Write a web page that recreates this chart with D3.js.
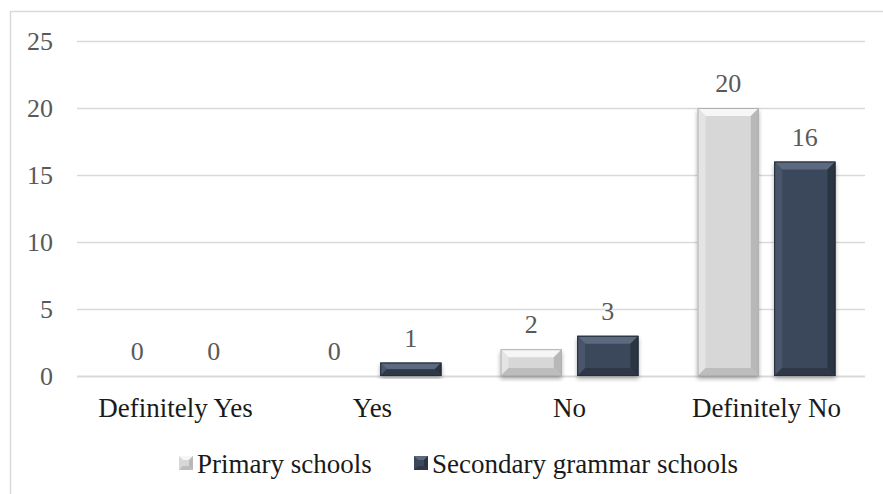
<!DOCTYPE html>
<html>
<head>
<meta charset="utf-8">
<script src="https://cdnjs.cloudflare.com/ajax/libs/d3/7.8.5/d3.min.js"></script>
<style>
  body { margin: 0; background: #fff; }
</style>
</head>
<body>
<div id="chart"></div>
<script>
// data
var categories = ["Definitely Yes", "Yes", "No", "Definitely No"];
var seriesNames = ["Primary schools", "Secondary grammar schools"];
var primary = [0, 0, 2, 20];
var secondary = [0, 1, 3, 16];
var yTicks = [0, 5, 10, 15, 20, 25];

var svgWidth = 883, svgHeight = 494;
var margin = { top: 41, bottom: 118, left: 77, right: 18 };
var chartWidth = svgWidth - margin.left - margin.right;
var chartHeight = svgHeight - margin.top - margin.bottom;
var serif = "'Liberation Serif', 'Times New Roman', 'DejaVu Serif', serif";

var svg = d3.select('#chart').append('svg').attr('width', svgWidth).attr('height', svgHeight)
  .attr('font-family', serif).style('font-family', serif);

// outer frame (only left and top visible)
svg.append('path').attr('d', 'M10.5,494 L10.5,11.5 L883,11.5')
  .attr('fill', 'none').attr('stroke', '#d9d9d9').attr('stroke-width', 1.5);

var defs = svg.append('defs');
var f = defs.append('filter').attr('id', 'shadow').attr('x', '-20%').attr('y', '-20%').attr('width', '140%').attr('height', '140%');
f.append('feGaussianBlur').attr('in', 'SourceAlpha').attr('stdDeviation', 2);
f.append('feOffset').attr('dx', 0).attr('dy', 3).attr('result', 'b');
f.append('feComponentTransfer').append('feFuncA').attr('type', 'linear').attr('slope', 0.3);
var m = f.append('feMerge');
m.append('feMergeNode');
m.append('feMergeNode').attr('in', 'SourceGraphic');

var g = svg.append('g').attr('transform', `translate(${margin.left},${margin.top})`);

var xScale = d3.scaleBand().domain(categories).range([0, chartWidth]).paddingInner(0.3).paddingOuter(0.15);
var xInner = d3.scaleBand().domain(seriesNames).range([0, xScale.bandwidth()]).paddingInner(0.2);
var yScale = d3.scaleLinear().domain([0, 25]).range([chartHeight, 0]);

// gridlines
g.append('g').selectAll('line').data(yTicks.filter(d => d > 0)).enter().append('line')
  .attr('x1', 0).attr('x2', chartWidth)
  .attr('y1', d => Math.round(yScale(d)) + 0.5).attr('y2', d => Math.round(yScale(d)) + 0.5)
  .attr('stroke', '#d9d9d9').attr('stroke-width', 1.5);

// y tick labels
g.append('g').selectAll('text').data(yTicks).enter().append('text')
  .attr('x', -24).attr('y', d => yScale(d)).attr('dy', '0.33em')
  .attr('text-anchor', 'end').attr('font-size', 26).attr('fill', '#595959')
  .text(d => d);

// x axis line
g.append('line').attr('x1', 0).attr('x2', chartWidth)
  .attr('y1', chartHeight + 0.5).attr('y2', chartHeight + 0.5)
  .attr('stroke', '#d9d9d9').attr('stroke-width', 2);

// category labels
g.append('g').selectAll('text').data(categories).enter().append('text')
  .attr('x', d => xScale(d) + xScale.bandwidth() / 2).attr('y', chartHeight + 41)
  .attr('text-anchor', 'middle').attr('font-size', 27).attr('fill', '#1a1a1a')
  .text(d => d);

var styles = [
  { base: '#d8d7d7', top: '#f6f6f6', left: '#e4e4e4', right: '#b8b8b8', bottom: '#bdbdbd', edge: '#b0b0b0' },
  { base: '#3b475a', top: '#5c6a80', left: '#48556a', right: '#2b3442', bottom: '#2f3846', edge: '#252d39' }
];

function bevelBar(sel, x, y, w, h, st) {
  if (h <= 0) return;
  var b = Math.min(8, h / 2, w / 2);
  var bar = sel.append('g').attr('filter', 'url(#shadow)');
  bar.append('rect').attr('x', x).attr('y', y).attr('width', w).attr('height', h).attr('fill', st.base);
  bar.append('polygon').attr('points', [[x, y], [x + w, y], [x + w - b, y + b], [x + b, y + b]].join(' ')).attr('fill', st.top);
  bar.append('polygon').attr('points', [[x, y], [x + b, y + b], [x + b, y + h - b], [x, y + h]].join(' ')).attr('fill', st.left);
  bar.append('polygon').attr('points', [[x + w, y], [x + w, y + h], [x + w - b, y + h - b], [x + w - b, y + b]].join(' ')).attr('fill', st.right);
  bar.append('polygon').attr('points', [[x, y + h], [x + b, y + h - b], [x + w - b, y + h - b], [x + w, y + h]].join(' ')).attr('fill', st.bottom);
  bar.append('rect').attr('x', x + 0.5).attr('y', y + 0.5).attr('width', w - 1).attr('height', h - 1)
    .attr('fill', 'none').attr('stroke', st.edge).attr('stroke-width', 1);
}

var allSeries = [primary, secondary];
var barsG = g.append('g');
var labelsG = g.append('g');
allSeries.forEach(function (vals, si) {
  categories.forEach(function (c, ci) {
    var v = vals[ci];
    var x = xScale(c) + xInner(seriesNames[si]);
    var w = xInner.bandwidth();
    var y = yScale(v);
    bevelBar(barsG, x, y, w, chartHeight - y, styles[si]);
    labelsG.append('text').attr('x', x + w / 2).attr('y', y - 16)
      .attr('text-anchor', 'middle').attr('font-size', 26).attr('fill', '#595959')
      .text(v);
  });
});

// legend
var legend = svg.append('g').attr('transform', 'translate(0,463)');
var legendX = [179, 414];
seriesNames.forEach(function (s, i) {
  var lg = legend.append('g').attr('transform', `translate(${legendX[i]},0)`);
  var st = styles[i];
  var sz = 14, b = 4, t = -7;
  lg.append('rect').attr('x', 0).attr('y', t).attr('width', sz).attr('height', sz).attr('fill', st.base);
  lg.append('polygon').attr('points', [[0, t], [sz, t], [sz - b, t + b], [b, t + b]].join(' ')).attr('fill', st.top);
  lg.append('polygon').attr('points', [[sz, t], [sz, t + sz], [sz - b, t + sz - b], [sz - b, t + b]].join(' ')).attr('fill', st.right);
  lg.append('polygon').attr('points', [[0, t + sz], [b, t + sz - b], [sz - b, t + sz - b], [sz, t + sz]].join(' ')).attr('fill', st.bottom);
  lg.append('text').attr('x', sz + 4).attr('y', 10)
    .attr('font-size', 27).attr('fill', '#1a1a1a').text(s);
});
</script>
</body>
</html>
